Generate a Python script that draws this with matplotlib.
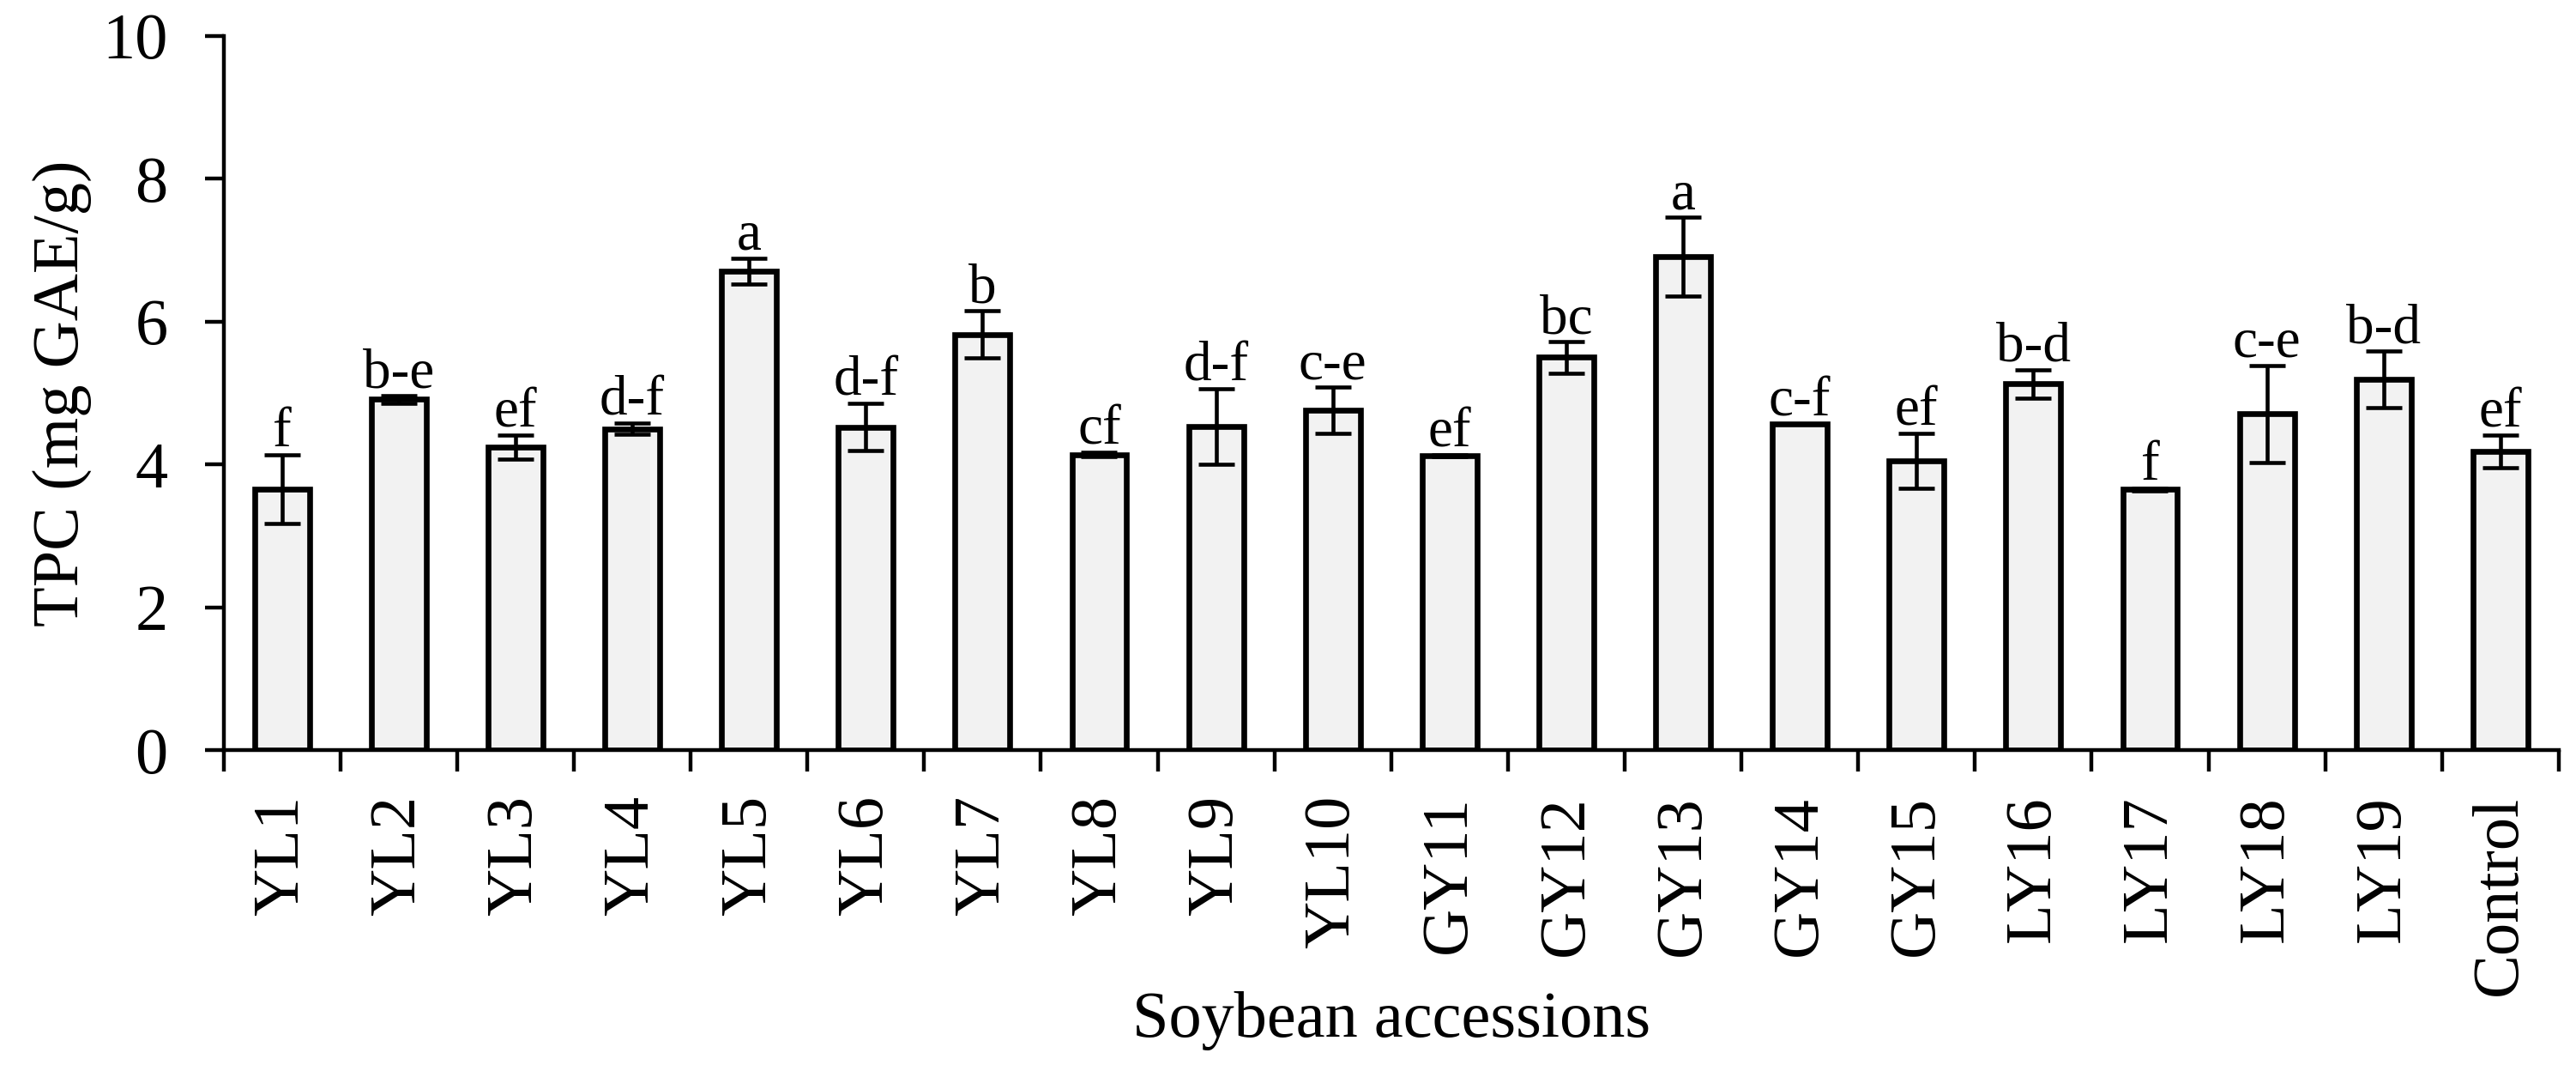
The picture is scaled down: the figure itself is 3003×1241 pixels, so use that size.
import numpy as np
import matplotlib
matplotlib.use("Agg")
import matplotlib.pyplot as plt

# datos
accesiones = ["YL1", "YL2", "YL3", "YL4", "YL5", "YL6", "YL7", "YL8", "YL9", "YL10",
              "GY11", "GY12", "GY13", "GY14", "GY15", "LY16", "LY17", "LY18", "LY19", "Control"]
tpc = [3.66, 4.91, 4.24, 4.50, 6.71, 4.52, 5.82, 4.14, 4.53, 4.76,
       4.12, 5.50, 6.91, 4.57, 4.05, 5.13, 3.65, 4.71, 5.19, 4.18]
tpc_err = [0.48, 0.05, 0.17, 0.08, 0.18, 0.33, 0.33, 0.03, 0.53, 0.32,
           0.01, 0.22, 0.55, 0.0, 0.38, 0.20, 0.02, 0.68, 0.40, 0.23]
letras = ["f", "b-e", "ef", "d-f", "a", "d-f", "b", "cf", "d-f", "c-e",
          "ef", "bc", "a", "c-f", "ef", "b-d", "f", "c-e", "b-d", "ef"]

plt.rcParams["font.family"] = ["Liberation Serif", "DejaVu Serif"]

fig = plt.figure(figsize=(30.03, 12.41), dpi=100)
ax = fig.add_axes([0.0868, 0.2955, 0.9065, 0.6709])

x = np.arange(len(accesiones))
ax.bar(x, tpc, width=0.47, color="#f2f2f2", edgecolor="black", linewidth=4.8, zorder=2)
ax.errorbar(x, tpc, yerr=tpc_err, fmt="none", ecolor="black", elinewidth=3.3,
            capsize=15, capthick=3.3, zorder=3)

# letras de significancia
for xi, v, e, l in zip(x, tpc, tpc_err, letras):
    ax.annotate(l, (xi, v + e), xytext=(0, 7), textcoords="offset points",
                ha="center", va="baseline", fontsize=47)

ax.set_xlim(-0.5, len(accesiones) - 0.5)
ax.set_ylim(0, 10)
ax.set_yticks(np.arange(0, 11, 2))

# marcas entre categorias, etiquetas en el centro
ax.set_xticks(np.arange(len(accesiones) + 1) - 0.5)
ax.set_xticklabels([])
ax.set_xticks(x, labels=accesiones, minor=True, rotation=90)
ax.tick_params(axis="x", which="major", direction="out", length=18, width=3.2)
ax.tick_params(axis="x", which="minor", length=0, pad=38, labelsize=55)
ax.tick_params(axis="y", direction="out", length=16, width=3.2, pad=31, labelsize=55)

for s in ["top", "right"]:
    ax.spines[s].set_visible(False)
for s in ["left", "bottom"]:
    ax.spines[s].set_linewidth(3.2)

ax.set_ylabel("TPC (mg GAE/g)", fontsize=55)
ax.yaxis.label.set_va("baseline")
ax.yaxis.set_label_coords(-0.0623, 0.5)
ax.set_xlabel("Soybean accessions", fontsize=55)
ax.xaxis.label.set_va("baseline")
ax.xaxis.set_label_coords(0.5, -0.4008)

fig.savefig("out.png", dpi=100)
